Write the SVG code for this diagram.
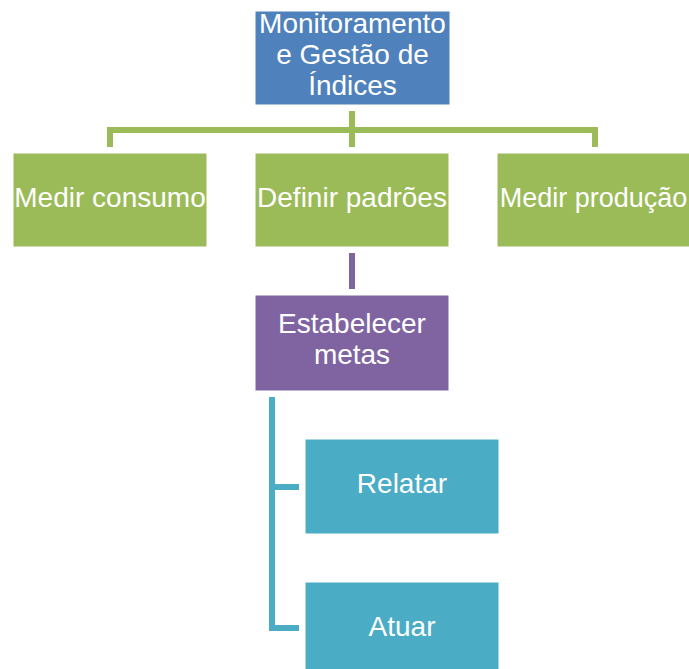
<svg xmlns="http://www.w3.org/2000/svg" width="689" height="669" viewBox="0 0 689 669">
  <style>
    .box { stroke: #ffffff; stroke-width: 1; }
    .lbl { font-family: "Liberation Sans", Arial, sans-serif; font-size: 28px; fill: #ffffff; text-anchor: middle; }
    .conn { fill: none; stroke-width: 6; stroke-linecap: butt; stroke-linejoin: miter; }
  </style>
  <rect width="689" height="669" fill="#ffffff"/>

  <!-- connectors -->
  <g id="connectors">
    <path class="conn" stroke="#9BBB59" d="M352 111 V147 M110 147 V130 H595 V147"/>
    <path class="conn" stroke="#8064A2" d="M352 253 V289"/>
    <path class="conn" stroke="#4BACC6" d="M272 397 V628 H299 M272 487 H299"/>
  </g>

  <g id="monitoramento">
    <rect class="box" x="255" y="11" width="195" height="94" fill="#4F81BD"/>
    <text class="lbl" x="352.5" y="33">Monitoramento</text>
    <text class="lbl" x="352.5" y="64">e Gestão de</text>
    <text class="lbl" x="352.5" y="95">Índices</text>
  </g>

  <g id="medir-consumo">
    <rect class="box" x="13" y="153" width="194" height="94" fill="#9BBB59"/>
    <text class="lbl" x="110" y="207">Medir consumo</text>
  </g>

  <g id="definir-padroes">
    <rect class="box" x="255" y="153" width="194" height="94" fill="#9BBB59"/>
    <text class="lbl" x="352" y="207">Definir padrões</text>
  </g>

  <g id="medir-producao">
    <rect class="box" x="497" y="153" width="196" height="94" fill="#9BBB59"/>
    <text class="lbl" x="593.5" y="207" style="font-size:27px">Medir produção</text>
  </g>

  <g id="estabelecer-metas">
    <rect class="box" x="255" y="295" width="194" height="96" fill="#8064A2"/>
    <text class="lbl" x="352" y="333">Estabelecer</text>
    <text class="lbl" x="352" y="364">metas</text>
  </g>

  <g id="relatar">
    <rect class="box" x="305" y="439" width="194" height="95" fill="#4BACC6"/>
    <text class="lbl" x="402" y="493">Relatar</text>
  </g>

  <g id="atuar">
    <rect class="box" x="305" y="582" width="194" height="95" fill="#4BACC6"/>
    <text class="lbl" x="402" y="636">Atuar</text>
  </g>
</svg>
